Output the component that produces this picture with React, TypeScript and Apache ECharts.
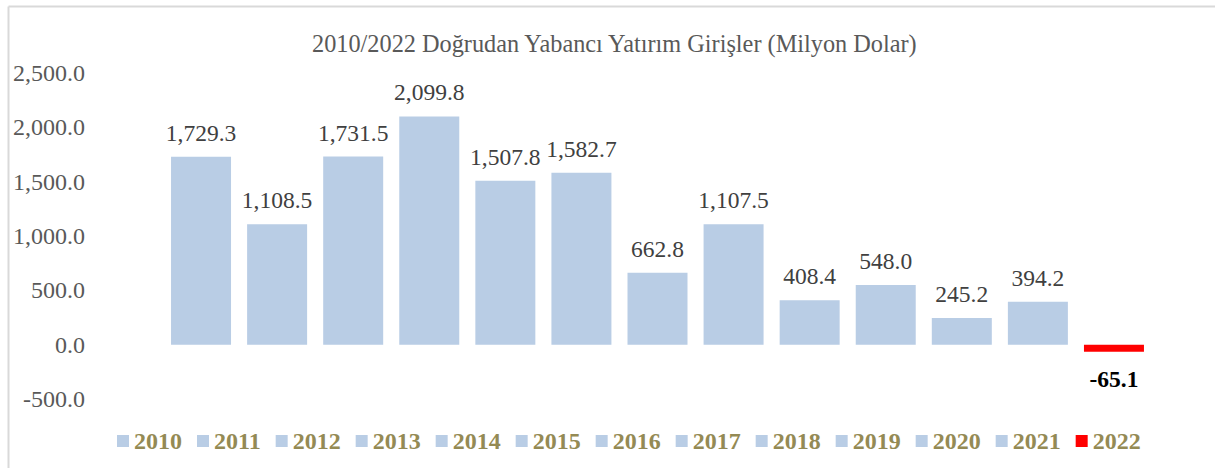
import React, { useEffect, useRef } from "react";
import * as echarts from "echarts";

const years = ["2010", "2011", "2012", "2013", "2014", "2015", "2016", "2017", "2018", "2019", "2020", "2021", "2022"];
const values = [1729.3, 1108.5, 1731.5, 2099.8, 1507.8, 1582.7, 662.8, 1107.5, 408.4, 548.0, 245.2, 394.2, -65.1];
const colors = ["#B9CDE5", "#B9CDE5", "#B9CDE5", "#B9CDE5", "#B9CDE5", "#B9CDE5", "#B9CDE5", "#B9CDE5", "#B9CDE5", "#B9CDE5", "#B9CDE5", "#B9CDE5", "#FF0000"];
const title = "2010/2022 Doğrudan Yabancı Yatırım Girişler (Milyon Dolar)";

const fmt = (v: number) =>
  v.toLocaleString("en-US", { minimumFractionDigits: 1, maximumFractionDigits: 1 });

export default function App() {
  const ref = useRef<HTMLDivElement>(null);
  useEffect(() => {
    if (!ref.current) return;
    const chart = echarts.init(ref.current, null, { renderer: "svg" });
    const font = "Liberation Serif";
    const series = years.map((y, i) => {
      const neg = values[i] < 0;
      return {
        name: y,
        type: "bar",
        stack: "all",
        barWidth: 60,
        itemStyle: { color: colors[i] },
        data: years.map((_, j) => (j === i ? values[i] : null)),
        label: {
          show: true,
          position: neg ? "bottom" : "top",
          distance: neg ? 15 : 12,
          formatter: (p: any) => fmt(p.value),
          fontFamily: font,
          fontSize: 23.5,
          fontWeight: neg ? "bold" : "normal",
          color: neg ? "#000000" : "#404040",
        },
      };
    });
    chart.setOption({
      animation: false,
      title: {
        text: title,
        left: 312,
        top: 26,
        padding: [5, 0, 5, 0],
        textStyle: { fontFamily: font, fontSize: 24.3, fontWeight: "normal", color: "#595959" },
      },
      legend: {
        data: years,
        bottom: 10,
        left: 112,
        icon: "rect",
        itemWidth: 12,
        itemHeight: 12,
        itemGap: 15,
        textStyle: { fontFamily: font, fontSize: 24, fontWeight: "bold", color: "#948A54" },
      },
      grid: { left: 163, right: 63, top: 73, bottom: 69, containLabel: false },
      xAxis: {
        type: "category",
        data: years,
        show: false,
      },
      yAxis: {
        type: "value",
        min: -500,
        max: 2500,
        interval: 500,
        axisLine: { show: false },
        axisTick: { show: false },
        splitLine: { show: false },
        axisLabel: {
          margin: 78,
          formatter: (v: number) => fmt(v),
          fontFamily: font,
          fontSize: 24,
          color: "#595959",
        },
      },
      graphic: [
        { type: "line", shape: { x1: 8.5, y1: 6.5, x2: 1215, y2: 6.5 }, style: { stroke: "#D9D9D9", lineWidth: 2 } },
        { type: "line", shape: { x1: 8.5, y1: 6.5, x2: 8.5, y2: 468 }, style: { stroke: "#D9D9D9", lineWidth: 2 } },
      ],
      series,
    });
    return () => chart.dispose();
  }, []);
  return (
    <div
      ref={ref}
      style={{ position: "absolute", left: 0, top: 0, width: 1215, height: 468, background: "#fff" }}
    />
  );
}
